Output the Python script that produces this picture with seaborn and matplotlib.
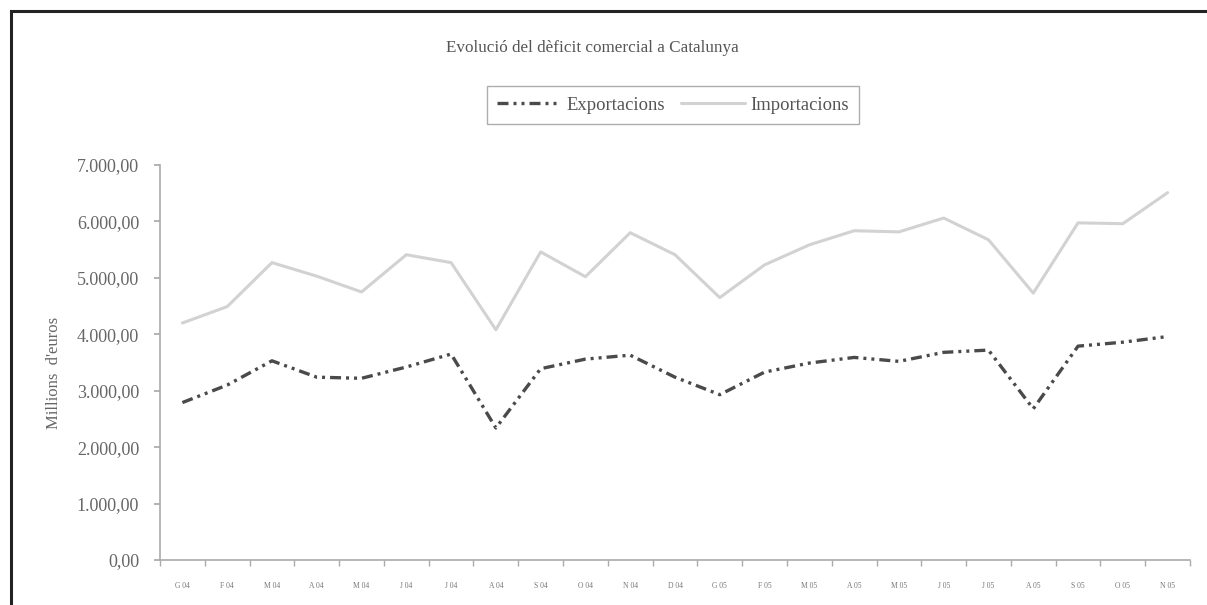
import matplotlib
matplotlib.use("Agg")
import matplotlib.pyplot as plt
import matplotlib.patches as mpatches
from matplotlib.ticker import FuncFormatter, FixedLocator
import seaborn as sns
import pandas as pd

months = ["G 04", "F 04", "M 04", "A 04", "M 04", "J 04", "J 04", "A 04", "S 04",
          "O 04", "N 04", "D 04", "G 05", "F 05", "M 05", "A 05", "M 05", "J 05",
          "J 05", "A 05", "S 05", "O 05", "N 05"]
exportacions = [2790, 3100, 3530, 3240, 3220, 3420, 3650, 2340, 3390, 3560, 3630, 3240,
                2930, 3330, 3490, 3590, 3520, 3680, 3720, 2680, 3790, 3860, 3960]
importacions = [4200, 4490, 5270, 5030, 4750, 5410, 5270, 4080, 5460, 5020, 5800, 5410,
                4650, 5230, 5585, 5835, 5815, 6060, 5675, 4730, 5975, 5960, 6510]
yticks = [0, 1000, 2000, 3000, 4000, 5000, 6000, 7000]

sns.set_theme(style="white")
plt.rcParams["font.family"] = ["Liberation Serif", "DejaVu Serif"]

df = pd.DataFrame({"idx": list(range(len(months))),
                   "Exportacions": exportacions,
                   "Importacions": importacions})

fig = plt.figure(figsize=(12.07, 6.05), dpi=100)
fig.patch.set_facecolor("white")
ax = fig.add_axes([160 / 1207, 1 - 560 / 605, (1190 - 160) / 1207, (560 - 165) / 605])

sns.lineplot(data=df, x="idx", y="Importacions", ax=ax, color="#d2d2d2", lw=2.2,
             label="Importacions")
sns.lineplot(data=df, x="idx", y="Exportacions", ax=ax, color="#4a4a4a", lw=2.4,
             label="Exportacions")
ax.lines[1].set_dashes([3.3, 1.5, 0.9, 1.5, 0.9, 1.5])

ax.set_xlim(-0.5, len(months) - 0.5)
ax.set_ylim(0, 7000)
ax.set_yticks(yticks)
ax.yaxis.set_major_formatter(FuncFormatter(
    lambda v, p: f"{v:,.2f}".replace(",", "X").replace(".", ",").replace("X", ".")))
ax.set_xticks(range(len(months)))
ax.set_xticklabels(months, fontsize=5.5, color="#777777")
ax.xaxis.set_minor_locator(FixedLocator([i - 0.5 for i in range(len(months) + 1)]))
ax.tick_params(axis="x", which="major", length=0, pad=16)
ax.tick_params(axis="x", which="minor", length=4, color="#aaaaaa", direction="out", bottom=True)
ax.tick_params(axis="y", length=4, color="#aaaaaa", direction="out", left=True,
               labelsize=13, labelcolor="#666666", pad=11)
for s in ["top", "right"]:
    ax.spines[s].set_visible(False)
for s in ["left", "bottom"]:
    ax.spines[s].set_color("#aaaaaa")
    ax.spines[s].set_linewidth(1.2)
ax.set_xlabel("")
ax.set_ylabel("Millions  d'euros", fontsize=12, color="#666666")
ax.yaxis.set_label_coords((62 - 160) / 1030, (560 - 373) / 395)
ax.grid(False)

handles, labels = ax.get_legend_handles_labels()
order = [1, 0]
leg = ax.legend([handles[i] for i in order], [labels[i] for i in order],
                loc="center", bbox_to_anchor=(673 / 1207, 1 - 105 / 605),
                bbox_transform=fig.transFigure, ncol=2, frameon=True, fancybox=False,
                fontsize=13.4, handlelength=3.4, handletextpad=0.3, columnspacing=0.9,
                borderpad=0.55, labelcolor="#555555")
leg.get_frame().set_edgecolor("#999999")
leg.get_frame().set_linewidth(1.0)

fig.text(592 / 1207, 1 - 48 / 605, "Evolució del dèficit comercial a Catalunya",
         ha="center", va="center", fontsize=12.3, color="#555555")

# outer frame (top and left edges visible in the crop)
fig.add_artist(mpatches.Rectangle((11 / 1207, -0.1), 1.2, 1 - 11 / 605 + 0.1,
                                  transform=fig.transFigure, fill=False,
                                  edgecolor="#222222", lw=2.2))

fig.savefig("out.png", dpi=100)
